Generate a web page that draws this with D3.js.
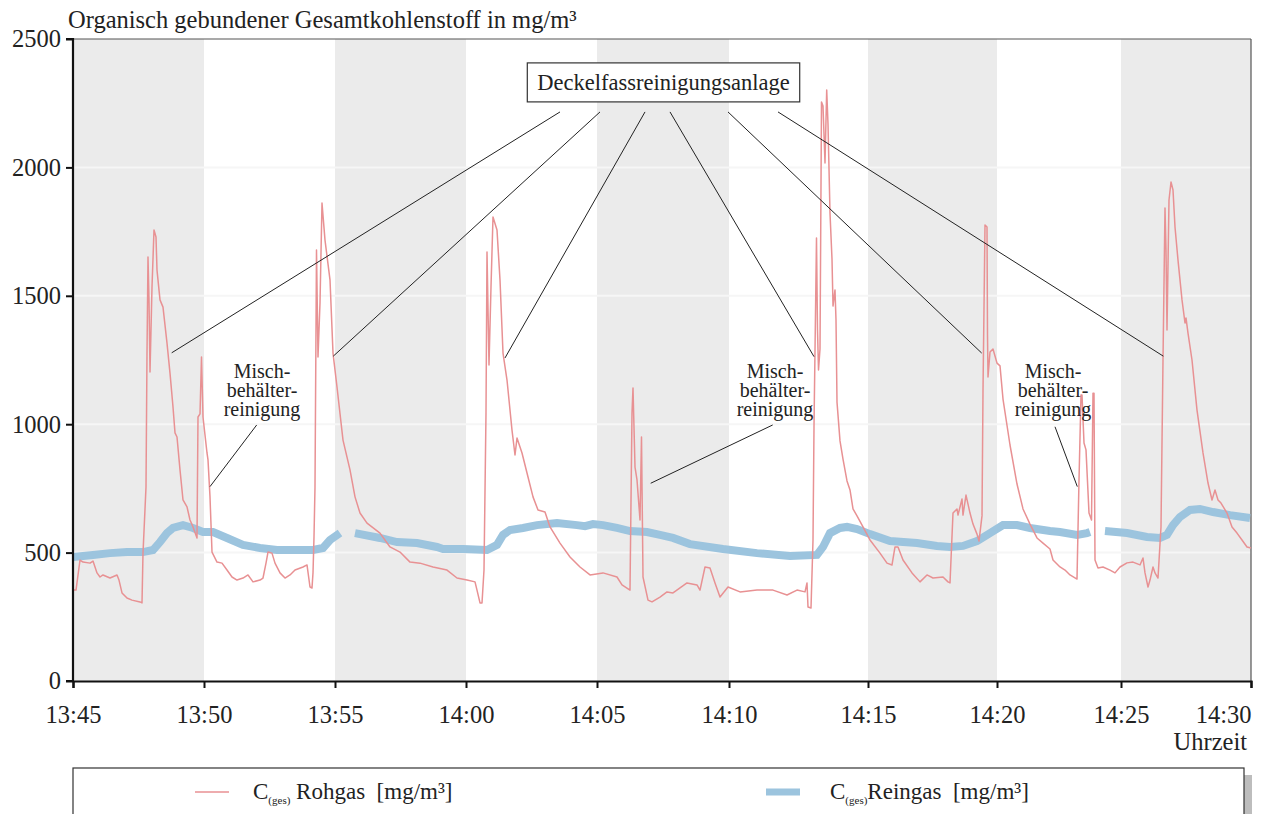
<!DOCTYPE html>
<html><head><meta charset="utf-8">
<script src="https://cdn.jsdelivr.net/npm/d3@7"></script>
<style>
body{margin:0;background:#fff}
svg{display:block}
text{font-family:"Liberation Serif","Times New Roman",serif;fill:#222}
</style>
</head><body>
<svg id="c" width="1264" height="814"></svg>
<script>
// ---- data ----
const title = "Organisch gebundener Gesamtkohlenstoff in mg/m³";
const xTitle = "Uhrzeit";
const tickLabels = ["13:45","13:50","13:55","14:00","14:05","14:10","14:15","14:20","14:25","14:30"];
// logger record number at which each full 5-minute mark occurs
const tickRecords = [0,131,262,393,524,656,795,924,1048,1178];
const yTicks = [0,500,1000,1500,2000,2500];

// C(ges) Rohgas [record, mg/m³]
const rohgas = [
[0,354],[3,354],[7,471],[10,463],[17,459],[20,467],[24,421],[27,405],[30,413],[37,401],[44,413],[46,393],[49,343],[54,323],[59,315],[67,308],[69,304],[70,498],[73,755],[74,1277],[75,1651],[76,1484],[77,1203],[78,1367],[79,1534],[81,1756],[83,1729],[84,1600],[87,1484],[90,1456],[94,1316],[97,1199],[100,1067],[102,966],[104,950],[107,822],[110,705],[114,678],[117,627],[120,600],[124,557],[125,1028],[127,1040],[128.5,1262],[130,1028],[134,888],[135,861],[137,717],[139,502],[144,463],[149,459],[154,432],[159,405],[164,393],[170,401],[175,413],[180,386],[187,393],[190,401],[193,459],[195,502],[199,498],[202,459],[207,421],[212,401],[217,413],[222,432],[230,444],[234,452],[237,366],[239,362],[240,421],[241,561],[242,755],[243.5,1678],[245,1262],[247,1472],[249,1861],[252,1717],[257,1562],[260,1277],[264,1145],[270,938],[277,822],[282,717],[287,654],[294,615],[307,576],[317,522],[327,502],[337,463],[347,459],[360,444],[374,432],[384,401],[394,393],[402,386],[404,354],[407,304],[409,304],[411,432],[413,1044],[414,1671],[416,1231],[418,1534],[420,1807],[424,1756],[427,1562],[430,1277],[434,1172],[439,977],[442,880],[444,946],[449,888],[454,810],[460,717],[465,666],[472,658],[477,600],[487,537],[497,483],[507,444],[517,413],[530,421],[544,405],[549,374],[557,354],[559,1044],[560,1141],[562,833],[564,783],[567,627],[568.5,950],[570,405],[575,315],[579,308],[587,327],[594,347],[600,343],[614,382],[624,374],[627,354],[632,444],[637,440],[642,382],[647,327],[655,366],[667,347],[684,354],[700,354],[714,335],[724,354],[732,347],[734,382],[735,288],[738,284],[740,549],[741,989],[743.5,1725],[744.5,1367],[745.5,1211],[747,1293],[748.5,2255],[750,2239],[752,2017],[753.7,2301],[755,2169],[757,1822],[759,1643],[760,1460],[762,1523],[763,1406],[764,1086],[767,935],[770,864],[774,779],[777,744],[780,670],[784,643],[790,600],[797,549],[807,498],[814,459],[819,452],[822,522],[825,522],[830,471],[839,421],[847,386],[854,413],[860,401],[870,405],[875,386],[877,382],[880,654],[884,670],[885,646],[889,709],[890,646],[893,724],[897,654],[900,611],[904,572],[906,545],[909,643],[910,1129],[912,1776],[914,1768],[914.5,1347],[915,1184],[917,1281],[920,1293],[924,1238],[927,1227],[930,1098],[937,919],[944,767],[950,670],[957,611],[964,557],[970,537],[977,514],[980,471],[987,444],[992,432],[997,413],[1004,397],[1006,783],[1008,1114],[1009,1114],[1011,927],[1013,900],[1016,654],[1018.5,627],[1020,1121],[1021,1121],[1022,471],[1025,440],[1030,444],[1037,432],[1042,421],[1047,444],[1054,460],[1060,463],[1067,452],[1070,479],[1072,421],[1075,366],[1077,393],[1080,444],[1082,421],[1085,401],[1088,600],[1090,1250],[1092,1842],[1093,1678],[1094,1367],[1096,1873],[1098,1943],[1100,1912],[1102,1768],[1105,1639],[1109,1484],[1112,1394],[1113,1414],[1115,1355],[1119,1250],[1124,1055],[1130,888],[1135,771],[1139,705],[1142,744],[1145,705],[1148,693],[1154,654],[1159,600],[1164,576],[1169,549],[1174,522],[1178,518]
];

// C(ges) Reingas [record, mg/m³]; null = no measurement
const reingas = [
[0,483],[20,491],[37,498],[54,502],[70,502],[80,510],[87,541],[94,576],[100,596],[110,607],[120,596],[130,580],[140,580],[154,557],[170,530],[187,518],[204,510],[240,510],[250,518],[257,549],[267,576],
[274,null],
[282,576],[307,557],[324,541],[344,537],[364,522],[370,514],[390,514],[414,510],[424,530],[430,569],[437,588],[450,596],[464,607],[484,615],[504,607],[512,603],[520,611],[530,607],[544,596],[557,584],[574,580],[587,569],[600,557],[617,533],[650,514],[684,498],[717,487],[744,491],[750,522],[757,576],[767,596],[774,600],[784,592],[797,572],[817,545],[844,537],[864,526],[877,522],[890,526],[904,545],[917,576],[930,607],[944,607],[957,596],[977,584],[987,580],[1004,569],[1014,576],[1017,580],
[1024,null],
[1032,584],[1054,576],[1074,561],[1087,557],[1094,569],[1100,607],[1107,639],[1117,666],[1127,670],[1140,658],[1157,646],[1177,635]
];

const boxLabel = "Deckelfassreinigungsanlage";
const boxCenter = [590.5, 2331];
const boxLeaderStarts = [[487,2216],[527,2216],[572,2216],[597,2216],[655,2216],[705,2216]];
const boxLeaderTargets = [[98.7,1278],[260.3,1265],[432,1258],[741,1263],[908.7,1277],[1090.3,1265]];

const mischLines = ["Misch-","behälter-","reinigung"];
const mischLabels = [[189,1180],[702,1180],[980,1180]];
const mischLeaders = [
  [[183.7,997],[137,757]],
  [[699.7,997],[577.7,770]],
  [[982,990],[1004.3,757]]
];

const legendItems = ["Rohgas  [mg/m³]","Reingas  [mg/m³]"];

// ---- chart ----
const svg = d3.select("#c");
const L = 73, R = 1251, T = 39, B = 681;
const x = d3.scaleLinear().domain([0, 1178]).range([L, R]);
const y = d3.scaleLinear().domain([0, 2500]).range([B, T]);

// bands
const bands = [];
for (let i = 0; i < tickRecords.length - 1; i += 2) bands.push([tickRecords[i], tickRecords[i+1]]);
svg.append("g").selectAll("rect").data(bands).join("rect")
  .attr("x", d => x(d[0])).attr("width", d => x(d[1]) - x(d[0]))
  .attr("y", T).attr("height", B - T).attr("fill", "#ebebeb");

// grid
svg.append("g").selectAll("line").data(yTicks.slice(1,-1)).join("line")
  .attr("x1", L).attr("x2", R).attr("y1", d => y(d)).attr("y2", d => y(d))
  .attr("stroke", "#f6f6f6").attr("stroke-width", 2);

// frame (top/right)
svg.append("line").attr("x1", L).attr("x2", R).attr("y1", T).attr("y2", T).attr("stroke", "#555").attr("stroke-width", 1.2);
svg.append("line").attr("x1", R).attr("x2", R).attr("y1", T).attr("y2", B).attr("stroke", "#555").attr("stroke-width", 1.2);

// series
const line = d3.line().defined(d => d[1] !== null).x(d => x(d[0])).y(d => y(d[1]));
svg.append("path").datum(reingas).attr("d", line).attr("fill", "none")
  .attr("stroke", "#9cc4de").attr("stroke-width", 8);
svg.append("path").datum(rohgas).attr("d", line).attr("fill", "none")
  .attr("stroke", "#e89193").attr("stroke-width", 1.5).attr("stroke-linejoin", "round");

// axes
const yAxis = svg.append("g").attr("transform", `translate(${L},0)`)
  .call(d3.axisLeft(y).tickValues(yTicks).tickSize(7).tickPadding(5).tickFormat(d3.format("d")));
const xAxis = svg.append("g").attr("transform", `translate(0,${B})`)
  .call(d3.axisBottom(x).tickValues(tickRecords).tickSize(7).tickPadding(14).tickFormat((d,i) => tickLabels[i]));
[yAxis, xAxis].forEach(a => {
  a.attr("font-family", null).attr("font-size", null);
  a.select(".domain").attr("stroke", "#111").attr("stroke-width", 2.2);
  a.selectAll(".tick line").attr("stroke", "#111").attr("stroke-width", 2);
  a.selectAll("text").style("font-family", "'Liberation Serif', serif").style("font-size", "24.5px").attr("fill", "#222");
});
yAxis.select(".domain").attr("d", `M-7,${B}H0V${T}H-7`);
xAxis.selectAll(".tick text").attr("dy", "0.85em");
xAxis.selectAll(".tick").filter((d,i) => i === tickRecords.length - 1).select("text").attr("text-anchor", "end").attr("dx", 0);

// titles
svg.append("text").attr("x", 68).attr("y", 28).style("font-size", "24.5px").text(title);
svg.append("text").attr("x", 1247).attr("y", 750).attr("text-anchor", "end").style("font-size", "24.5px").text(xTitle);

// annotation box
const bg = svg.append("g");
const bt = bg.append("text").attr("x", x(boxCenter[0])).attr("y", y(boxCenter[1]) + 8)
  .attr("text-anchor", "middle").style("font-size", "22.5px").text(boxLabel);
const bb = bt.node().getBBox();
bg.insert("rect", "text").attr("x", bb.x - 10).attr("y", y(boxCenter[1]) - 19.5).attr("width", bb.width + 20).attr("height", 39)
  .attr("fill", "#fff").attr("stroke", "#333").attr("stroke-width", 1.2);
svg.append("g").selectAll("line").data(boxLeaderStarts.map((s,i) => [s, boxLeaderTargets[i]])).join("line")
  .attr("x1", d => x(d[0][0])).attr("y1", d => y(d[0][1])).attr("x2", d => x(d[1][0])).attr("y2", d => y(d[1][1]))
  .attr("stroke", "#222").attr("stroke-width", 1);

// Misch labels
mischLabels.forEach(p => {
  const t = svg.append("text").attr("text-anchor", "middle").style("font-size", "20px");
  mischLines.forEach((s,i) => t.append("tspan").attr("x", x(p[0])).attr("y", y(p[1]) + i * 18.8).text(s));
});
svg.append("g").selectAll("line").data(mischLeaders).join("line")
  .attr("x1", d => x(d[0][0])).attr("y1", d => y(d[0][1])).attr("x2", d => x(d[1][0])).attr("y2", d => y(d[1][1]))
  .attr("stroke", "#222").attr("stroke-width", 1);

// legend
svg.append("rect").attr("x", 1244).attr("y", 775).attr("width", 8).attr("height", 45).attr("fill", "#bdbdbd");
svg.append("rect").attr("x", 73).attr("y", 768).attr("width", 1171).attr("height", 60)
  .attr("fill", "#fff").attr("stroke", "#333").attr("stroke-width", 1.2);
const legX = [195, 766], legTextX = [253, 830];
const legStyle = [{c:"#e89193", w:1.6}, {c:"#9cc4de", w:7}];
legendItems.forEach((s,i) => {
  svg.append("line").attr("x1", legX[i]).attr("x2", legX[i] + 34).attr("y1", 792).attr("y2", 792)
    .attr("stroke", legStyle[i].c).attr("stroke-width", legStyle[i].w);
  const t = svg.append("text").attr("x", legTextX[i]).attr("y", 799).style("font-size", "23px").style("white-space", "pre");
  t.append("tspan").text("C");
  t.append("tspan").style("font-size", "11px").attr("dy", 5).text("(ges)");
  t.append("tspan").attr("dy", -5).text((i === 0 ? " " : "") + s);
});
</script>
</body></html>
